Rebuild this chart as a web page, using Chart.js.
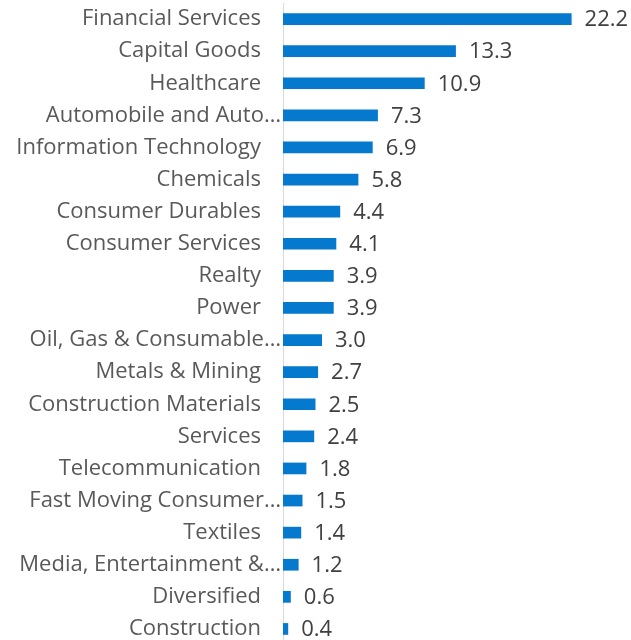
<!DOCTYPE html>
<html>
<head>
<meta charset="utf-8">
<script src="https://cdn.jsdelivr.net/npm/chart.js@4"></script>
<style>
  html, body { margin: 0; padding: 0; background: #fff; overflow: hidden; }
  #wrap { width: 631px; height: 646px; }
</style>
</head>
<body>
<div id="wrap"><canvas id="c"></canvas></div>
<script>
const sectors = [
  "Financial Services", "Capital Goods", "Healthcare", "Automobile and Auto…",
  "Information Technology", "Chemicals", "Consumer Durables", "Consumer Services",
  "Realty", "Power", "Oil, Gas & Consumable…", "Metals & Mining",
  "Construction Materials", "Services", "Telecommunication", "Fast Moving Consumer…",
  "Textiles", "Media, Entertainment &…", "Diversified", "Construction"
];
const weights = [22.2, 13.3, 10.9, 7.3, 6.9, 5.8, 4.4, 4.1, 3.9, 3.9, 3.0, 2.7, 2.5, 2.4, 1.8, 1.5, 1.4, 1.2, 0.6, 0.4];

const FONT = "'Open Sans', sans-serif";

// libellés des catégories (les tronqués vont jusqu'à l'axe, comme dans Excel)
const categoryLabels = {
  id: "categoryLabels",
  afterDraw(chart) {
    const ctx = chart.ctx;
    const y = chart.scales.y;
    ctx.save();
    ctx.font = "22px " + FONT;
    ctx.fillStyle = "#595959";
    ctx.textAlign = "right";
    ctx.textBaseline = "middle";
    sectors.forEach((s, i) => {
      const x = s.endsWith("…") ? y.right - 2 : y.right - 22;
      ctx.fillText(s, x, y.getPixelForTick(i));
    });
    ctx.restore();
  }
};

// valeurs à droite des barres
const valueLabels = {
  id: "valueLabels",
  afterDatasetsDraw(chart) {
    const ctx = chart.ctx;
    const meta = chart.getDatasetMeta(0);
    ctx.save();
    ctx.font = "22px " + FONT;
    ctx.fillStyle = "#404040";
    ctx.textAlign = "left";
    ctx.textBaseline = "middle";
    meta.data.forEach((bar, i) => {
      ctx.fillText(weights[i].toFixed(1), bar.x + 13, bar.y + 1);
    });
    ctx.restore();
  }
};

new Chart(document.getElementById("c"), {
  type: "bar",
  data: {
    labels: sectors,
    datasets: [{
      data: weights,
      backgroundColor: "#0479CE",
      barPercentage: 0.7,
      categoryPercentage: 0.52
    }]
  },
  options: {
    indexAxis: "y",
    responsive: true,
    maintainAspectRatio: false,
    animation: false,
    layout: { padding: { top: 3, right: 23, bottom: 1, left: 0 } },
    plugins: { legend: { display: false }, tooltip: { enabled: false } },
    scales: {
      x: { display: false, min: 0, max: 25 },
      y: {
        grid: { display: false, drawTicks: false },
        border: { display: true, color: "#d9d9d9", width: 1 },
        ticks: { display: false },
        afterFit(scale) {
          scale.width = 283;
          scale.paddingTop = 0;
          scale.paddingBottom = 0;
        }
      }
    }
  },
  plugins: [categoryLabels, valueLabels]
});
</script>
</body>
</html>
